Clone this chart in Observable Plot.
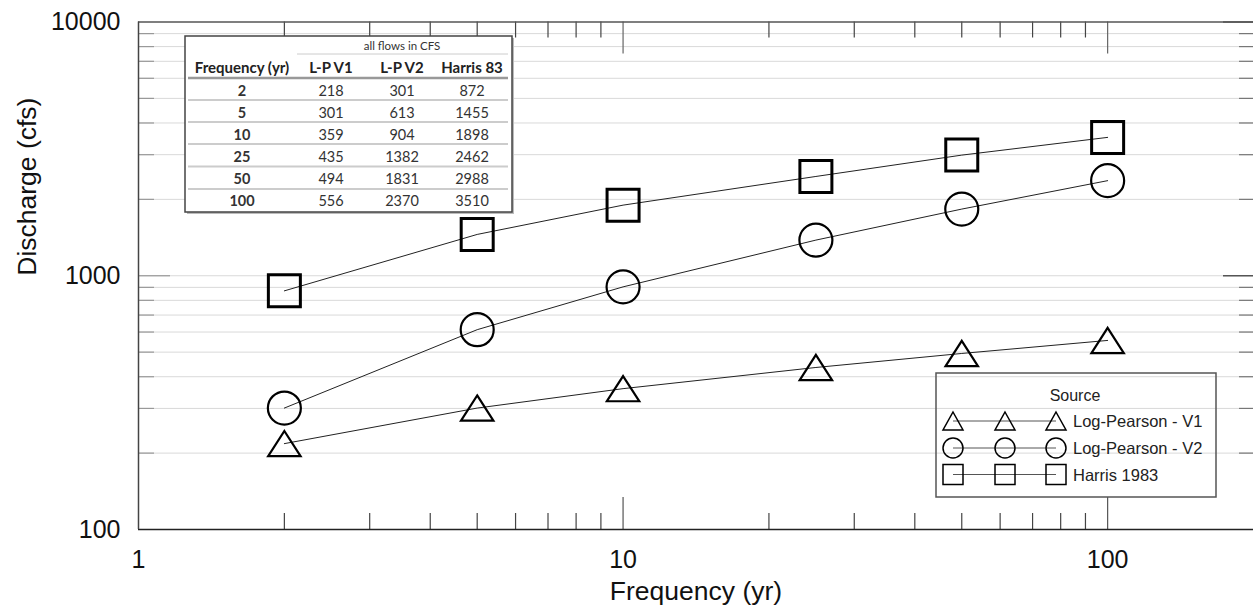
<!DOCTYPE html>
<html><head><meta charset="utf-8">
<script src="https://cdn.jsdelivr.net/npm/d3@7"></script>
<script src="https://cdn.jsdelivr.net/npm/@observablehq/plot@0.6"></script>
<style>
html,body{margin:0;padding:0;background:#fff;}
#chart{position:relative;width:1253px;height:607px;}
</style></head><body><div id="chart"></div>
<script>
// ---- data ----
const frequencies = [2, 5, 10, 25, 50, 100];
const logPearsonV1 = [218, 301, 359, 435, 494, 556];
const logPearsonV2 = [301, 613, 904, 1382, 1831, 2370];
const harris1983 = [872, 1455, 1898, 2462, 2988, 3510];
const seriesNames = ["Log-Pearson - V1", "Log-Pearson - V2", "Harris 1983"];
const legendTitle = "Source";
const tableHeaders = ["Frequency (yr)", "L-P V1", "L-P V2", "Harris 83"];
const tableNote = "all flows in CFS";
const xTickLabels = [1, 10, 100];
const yTickLabels = [100, 1000, 10000];
const xMinorTicks = [2, 3, 4, 5, 6, 7, 8, 9, 20, 30, 40, 50, 60, 70, 80, 90];
const xMajorTicks = [10, 100];
const yMinorTicks = [200, 300, 400, 500, 600, 700, 800, 900, 2000, 3000, 4000, 5000, 6000, 7000, 8000, 9000];
const yMajorTicks = [1000];
const xLabel = "Frequency (yr)";
const yLabel = "Discharge (cfs)";

// ---- layout ----
const W = 1253, H = 607, mL = 138, mR = 0, mT = 21.5, mB = 78;
const innerW = W - mL - mR, innerH = H - mT - mB;

const seriesValues = [logPearsonV1, logPearsonV2, harris1983];
const rows = seriesNames.flatMap((s, k) => frequencies.map((f, i) => ({freq: f, value: seriesValues[k][i], series: s})));

const triangle = {draw(ctx, size) {const r = Math.sqrt(size / Math.PI); const hw = 1.35 * r, hh = 1.05 * r; ctx.moveTo(0, -hh); ctx.lineTo(hw, hh); ctx.lineTo(-hw, hh); ctx.closePath();}};
const square = {draw(ctx, size) {const r = Math.sqrt(size / Math.PI); ctx.rect(-r, -r, 2 * r, 2 * r);}};

const font = "'Liberation Sans', Arial, sans-serif";

const svg = Plot.plot({
  width: W, height: H,
  marginLeft: mL, marginRight: mR, marginTop: mT, marginBottom: mB,
  x: {type: "log", domain: [1, 200], axis: null},
  y: {type: "log", domain: [100, 10000], axis: null},
  style: {fontFamily: font, background: "white", color: "#111"},
  marks: [
    Plot.ruleY([...yMinorTicks, ...yMajorTicks], {stroke: "#d9d9d9", strokeWidth: 1}),
    // left ticks
    Plot.tickY(yMinorTicks, {y: d => d, insetRight: innerW - 16, stroke: "#999", strokeWidth: 1.2}),
    Plot.tickY(yMajorTicks, {y: d => d, insetRight: innerW - 32, stroke: "#999", strokeWidth: 1.2}),
    // right ticks
    Plot.tickY(yMinorTicks, {y: d => d, insetLeft: innerW - 14, stroke: "#777", strokeWidth: 1.2}),
    Plot.tickY([...yMajorTicks, 10000], {y: d => d, insetLeft: innerW - 30, stroke: "#555", strokeWidth: 1.5}),
    // top ticks
    Plot.tickX(xMinorTicks, {x: d => d, insetBottom: innerH - 16, stroke: "#444", strokeWidth: 1.2}),
    Plot.tickX(xMajorTicks, {x: d => d, insetBottom: innerH - 32, stroke: "#666", strokeWidth: 1.2}),
    // bottom ticks
    Plot.tickX(xMinorTicks, {x: d => d, insetTop: innerH - 16, stroke: "#444", strokeWidth: 1.2}),
    Plot.tickX(xMajorTicks, {x: d => d, insetTop: innerH - 32, stroke: "#555", strokeWidth: 1.2}),
    // frame (top, left, bottom)
    Plot.ruleY([10000], {stroke: "#555", strokeWidth: 1.5}),
    Plot.ruleY([100], {stroke: "#222", strokeWidth: 1.5}),
    Plot.ruleX([1], {stroke: "#444", strokeWidth: 1.5}),
    // tick labels
    Plot.text(yTickLabels, {y: d => d, frameAnchor: "left", dx: -18, textAnchor: "end", lineAnchor: "middle", fontSize: 25, text: d => String(d), fill: "#111"}),
    Plot.text(xTickLabels, {x: d => d, frameAnchor: "bottom", dy: 30, lineAnchor: "middle", fontSize: 25, text: d => String(d), fill: "#111"}),
    // axis titles
    Plot.text([xLabel], {frameAnchor: "bottom", dy: 62, lineAnchor: "middle", fontSize: 26.5, fill: "#111"}),
    Plot.text([yLabel], {frameAnchor: "left", dx: -111, rotate: -90, lineAnchor: "middle", fontSize: 26.5, fill: "#111"}),
    // series
    Plot.line(rows, {x: "freq", y: "value", z: "series", stroke: "#222", strokeWidth: 1}),
    Plot.dot(rows.filter(d => d.series === seriesNames[0]), {x: "freq", y: "value", symbol: triangle, r: 12, stroke: "#000", strokeWidth: 2.2, fill: "none"}),
    Plot.dot(rows.filter(d => d.series === seriesNames[1]), {x: "freq", y: "value", symbol: "circle", r: 16.5, stroke: "#000", strokeWidth: 2.2, fill: "none"}),
    Plot.dot(rows.filter(d => d.series === seriesNames[2]), {x: "freq", y: "value", symbol: square, r: 16, stroke: "#000", strokeWidth: 3, fill: "none"})
  ]
});
document.getElementById("chart").appendChild(svg);

// ---- data table (inset) ----
const root = d3.select(svg);
const tbl = root.append("g").attr("font-family", "Lato, 'Open Sans', sans-serif");
const tx = 185, ty = 36, tw = 327, th = 176;
tbl.append("rect").attr("x", tx + 2).attr("y", ty + 2).attr("width", tw).attr("height", th).attr("fill", "#bbb");
tbl.append("rect").attr("x", tx).attr("y", ty).attr("width", tw).attr("height", th).attr("fill", "#fff").attr("stroke", "#444").attr("stroke-width", 1.5);
const colX = [242, 331, 402, 472];
const rowY = [90, 112, 134, 156, 178, 200.5];
const sepY = [100, 122, 144, 166.5, 189];
tbl.append("text").attr("x", 402).attr("y", 45).attr("text-anchor", "middle").attr("dominant-baseline", "central").attr("font-size", 11.5).attr("fill", "#333").text(tableNote);
tbl.append("line").attr("x1", 297).attr("x2", 508).attr("y1", 54).attr("y2", 54).attr("stroke", "#ccc").attr("stroke-width", 1);
tableHeaders.forEach((h, j) => tbl.append("text").attr("x", colX[j]).attr("y", 67).attr("text-anchor", "middle").attr("dominant-baseline", "central").attr("font-size", 15).attr("font-weight", "bold").attr("fill", "#222").text(h));
tbl.append("line").attr("x1", 188).attr("x2", 508).attr("y1", 78).attr("y2", 78).attr("stroke", "#999").attr("stroke-width", 2.5);
sepY.forEach(y => tbl.append("line").attr("x1", 188).attr("x2", 508).attr("y1", y).attr("y2", y).attr("stroke", "#ccc").attr("stroke-width", 2));
frequencies.forEach((f, i) => {
  const vals = [f, logPearsonV1[i], logPearsonV2[i], harris1983[i]];
  vals.forEach((v, j) => tbl.append("text").attr("x", colX[j]).attr("y", rowY[i]).attr("text-anchor", "middle").attr("dominant-baseline", "central")
    .attr("font-size", 14.5).attr("font-weight", j === 0 ? "bold" : "normal").attr("fill", "#333").text(String(v)));
});

// ---- legend ----
const lg = root.append("g");
lg.append("rect").attr("x", 936).attr("y", 373).attr("width", 280).attr("height", 124).attr("fill", "none").attr("stroke", "#555").attr("stroke-width", 1.5);
lg.append("text").attr("x", 1075).attr("y", 395).attr("text-anchor", "middle").attr("dominant-baseline", "central")
  .style("font-family", font).style("font-size", "16px").attr("fill", "#222").text(legendTitle);
const legY = [421, 448, 474.5];
const symX = [953, 1005, 1056];
seriesNames.forEach((s, k) => {
  const y = legY[k];
  lg.append("line").attr("x1", symX[0]).attr("x2", symX[2]).attr("y1", y).attr("y2", y).attr("stroke", "#555").attr("stroke-width", 1);
  symX.forEach(x => {
    if (k === 0) lg.append("path").attr("d", `M${x},${y - 9}L${x + 10},${y + 9}L${x - 10},${y + 9}Z`).attr("fill", "none").attr("stroke", "#000").attr("stroke-width", 1.5);
    else if (k === 1) lg.append("circle").attr("cx", x).attr("cy", y).attr("r", 10).attr("fill", "none").attr("stroke", "#000").attr("stroke-width", 1.5);
    else lg.append("rect").attr("x", x - 10).attr("y", y - 10).attr("width", 20).attr("height", 20).attr("fill", "none").attr("stroke", "#000").attr("stroke-width", 1.5);
  });
  lg.append("text").attr("x", 1073).attr("y", y).attr("text-anchor", "start").attr("dominant-baseline", "central")
    .style("font-family", font).style("font-size", "16.5px").attr("fill", "#222").text(s);
});
</script></body></html>
